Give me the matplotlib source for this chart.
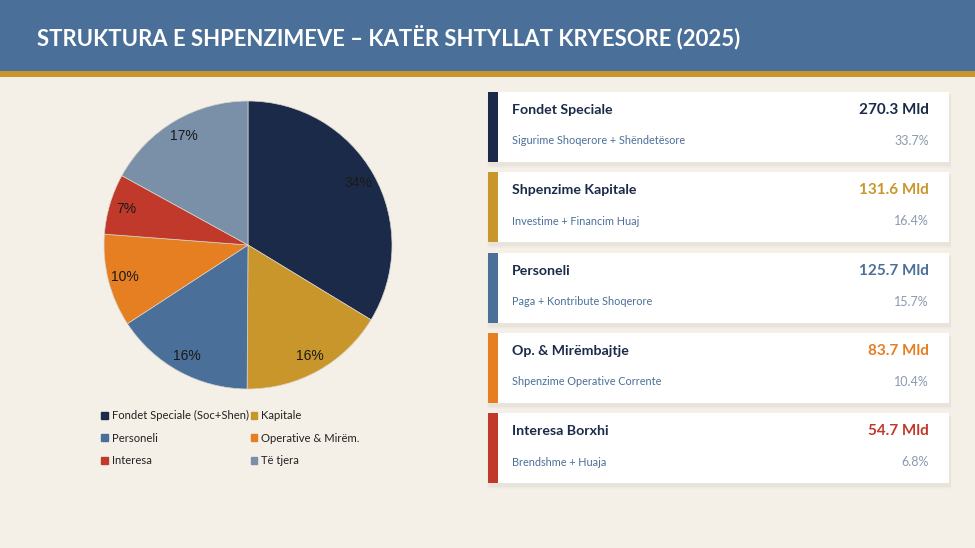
import matplotlib.pyplot as plt
from matplotlib.patches import Rectangle, Patch

# data
labels = ["Fondet Speciale (Soc+Shen)", "Kapitale", "Personeli",
          "Operative & Mirëm.", "Interesa", "Të tjera"]
shares = [33.7, 16.4, 15.7, 10.4, 6.8, 17.0]
colors = ["#1B2A48", "#C9962B", "#4A6F98", "#E67E22", "#C0392B", "#7A90A8"]

card_titles = ["Fondet Speciale", "Shpenzime Kapitale", "Personeli",
               "Op. & Mirëmbajtje", "Interesa Borxhi"]
card_subs = ["Sigurime Shoqerore + Shëndetësore", "Investime + Financim Huaj",
             "Paga + Kontribute Shoqerore", "Shpenzime Operative Corrente",
             "Brendshme + Huaja"]
card_values = [270.3, 131.6, 125.7, 83.7, 54.7]
card_pcts = [33.7, 16.4, 15.7, 10.4, 6.8]

BG = "#F4F0E8"
FONT = ["Lato", "DejaVu Sans"]

W, H = 975, 548
fig = plt.figure(figsize=(W / 100, H / 100), dpi=100, facecolor=BG)

# background canvas in pixel coords
bg = fig.add_axes([0, 0, 1, 1])
bg.set_xlim(0, W)
bg.set_ylim(H, 0)
bg.axis("off")

bg.add_patch(Rectangle((0, 0), W, 71, color="#4A6F98", lw=0))
bg.add_patch(Rectangle((0, 71), W, 6, color="#C9962B", lw=0))
bg.text(37, 37, "STRUKTURA E SHPENZIMEVE – KATËR SHTYLLAT KRYESORE (2025)",
        color="white", fontsize=15.9, fontweight="bold", family=FONT,
        va="center", ha="left")

# cards
card_x, card_w, card_h = 488, 461, 70
for i in range(len(card_titles)):
    top = 92 + i * 80.3
    for k, a in enumerate([0.035, 0.03, 0.025]):
        bg.add_patch(Rectangle((card_x - 1 + k, top + 2 + k), card_w + 3 - k, card_h + 2,
                               color="#8a7a60", alpha=a, lw=0))
    bg.add_patch(Rectangle((card_x, top), card_w, card_h, color="white", lw=0))
    bg.add_patch(Rectangle((card_x, top), 10, card_h, color=colors[i], lw=0))
    bg.text(512, top + 18, card_titles[i], fontsize=10.2, fontweight="bold",
            color="#1B2A48", family=FONT, va="center", ha="left")
    bg.text(512, top + 49, card_subs[i], fontsize=7.8, color="#4A6F98",
            family=FONT, va="center", ha="left")
    bg.text(929, top + 18, f"{card_values[i]:.1f} Mld", fontsize=11, fontweight="bold",
            color=colors[i], family=FONT, va="center", ha="right")
    bg.text(929, top + 49, f"{card_pcts[i]:.1f}%", fontsize=9, color="#8A9AB0",
            family=FONT, va="center", ha="right")

# pie
cx, cy, r = 248, 245, 144
pax = fig.add_axes([(cx - r) / W, 1 - (cy + r) / H, 2 * r / W, 2 * r / H])
wedges, _, autotexts = pax.pie(shares, colors=colors, startangle=90, counterclock=False,
                               autopct="%.0f%%", pctdistance=0.88,
                               wedgeprops=dict(edgecolor="#d8d4cc", linewidth=0.5),
                               textprops=dict(fontsize=10, color="#1a1a1a",
                                              family=["Liberation Sans", "DejaVu Sans"]))
pax.set_xlim(-1, 1)
pax.set_ylim(-1, 1)
pax.set_aspect("equal")

# legend (row-wise order like the reference)
order = [0, 2, 4, 1, 3, 5]
handles = [Patch(color=colors[j], label=labels[j]) for j in order]
leg = fig.legend(handles=handles, ncol=2, loc="upper left",
                 bbox_to_anchor=(91 / W, 1 - 400 / H), frameon=False,
                 handlelength=0.6, handleheight=0.6, handletextpad=0.35,
                 columnspacing=0.15, labelspacing=1.02,
                 prop=dict(family=FONT, size=8.1))
for t in leg.get_texts():
    t.set_color("#222222")

fig.savefig("out.png", dpi=100, facecolor=BG)
